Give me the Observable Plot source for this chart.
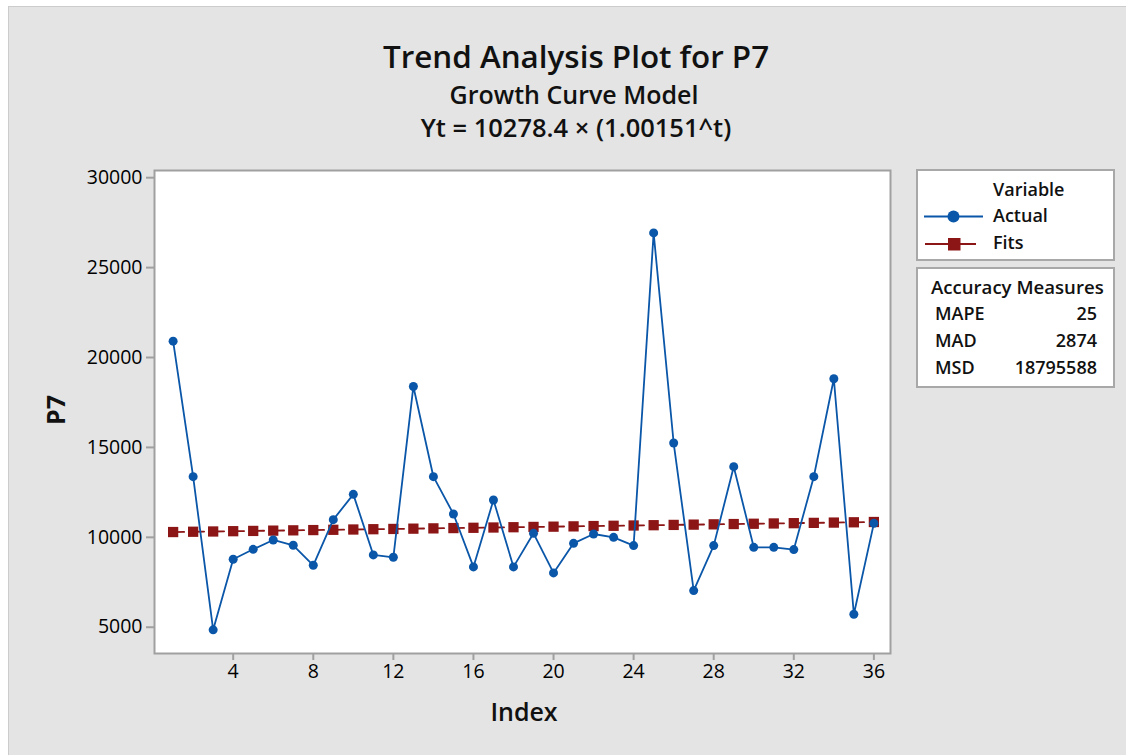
<!DOCTYPE html>
<html>
<head>
<meta charset="utf-8">
<script src="https://cdn.jsdelivr.net/npm/d3@7"></script>
<script src="https://cdn.jsdelivr.net/npm/@observablehq/plot@0.6"></script>
<style>
  html, body { margin: 0; padding: 0; background: #ffffff; width: 1126px; height: 755px; overflow: hidden; }
  #bg { position: absolute; left: 8px; top: 6px; right: 0; bottom: 0; background: #e4e4e4;
        border-left: 1px solid #cccccc; border-top: 1px solid #cccccc; }
  #chart { position: absolute; left: 0; top: 0; }
  #overlay { position: absolute; left: 0; top: 0; pointer-events: none; }
</style>
</head>
<body>
<div id="bg"></div>
<div id="chart"></div>
<svg id="overlay" width="1126" height="755"></svg>
<script>
// ---- data ----
const index = [1,2,3,4,5,6,7,8,9,10,11,12,13,14,15,16,17,18,19,20,21,22,23,24,25,26,27,28,29,30,31,32,33,34,35,36];
const actual = [20911, 13372, 4856, 8778, 9333, 9852, 9556, 8444, 10983, 12389, 9022, 8889,
                18389, 13372, 11300, 8356, 12078, 8356, 10222, 8022, 9667, 10185, 10000, 9539,
                26928, 15244, 7039, 9539, 13928, 9444, 9444, 9317, 13372, 18817, 5722, 10778];
const fits = [10294, 10310, 10325, 10341, 10356, 10372, 10388, 10403, 10419, 10435, 10451, 10466,
              10482, 10498, 10514, 10530, 10546, 10562, 10578, 10593, 10609, 10626, 10642, 10658,
              10674, 10690, 10706, 10722, 10738, 10755, 10771, 10787, 10803, 10820, 10836, 10852];
const xTicks = [4, 8, 12, 16, 20, 24, 28, 32, 36];
const yTicks = [5000, 10000, 15000, 20000, 25000, 30000];
const seriesNames = ["Actual", "Fits"];
const accuracyNames = ["MAPE", "MAD", "MSD"];
const accuracyValues = ["25", "2874", "18795588"];
const titleText = "Trend Analysis Plot for P7";
const subtitleText = "Growth Curve Model";
const equationText = "Yt = 10278.4 \u00d7 (1.00151^t)";
const xLabel = "Index";
const yLabel = "P7";

const blue = "#0a56a8";
const red = "#8c1515";
const font = "'Segoe UI', 'Open Sans', 'Noto Sans', sans-serif";

const actualData = index.map((t, i) => ({t, v: actual[i]}));
const fitsData = index.map((t, i) => ({t, v: fits[i]}));

const chart = Plot.plot({
  width: 1126,
  height: 755,
  marginLeft: 154,
  marginRight: 236,
  marginTop: 170,
  marginBottom: 102,
  style: {background: "transparent", fontFamily: font, fontSize: "19.5px", color: "black", overflow: "visible"},
  x: {domain: [0.07, 36.83]},
  y: {domain: [3539, 30400]},
  marks: [
    Plot.frame({fill: "white", stroke: "none"}),
    Plot.axisX({ticks: xTicks, tickSize: 7, tickPadding: 4, stroke: "#a0a0a0", strokeWidth: 2, fill: "black", label: null, fontSize: 19.5}),
    Plot.axisY({ticks: yTicks, tickSize: 8, tickPadding: 4, tickFormat: d3.format("d"), stroke: "#a0a0a0", strokeWidth: 2, fill: "black", label: null, fontSize: 19.5}),
    Plot.line(fitsData, {x: "t", y: "v", stroke: red, strokeWidth: 1.8, strokeDasharray: "11,9"}),
    Plot.dot(fitsData, {x: "t", y: "v", symbol: "square", r: 5.8, fill: red, stroke: "none"}),
    Plot.line(actualData, {x: "t", y: "v", stroke: blue, strokeWidth: 1.8}),
    Plot.dot(actualData, {x: "t", y: "v", symbol: "circle", r: 4.5, fill: blue, stroke: "none"}),
    Plot.frame({stroke: "#a0a0a0", strokeWidth: 2})
  ]
});
document.getElementById("chart").appendChild(chart);

// ---- titles, axis labels, legend ----
const svg = d3.select("#overlay").style("font-family", font);

function txt(x, y, s, size, weight, anchor = "start") {
  return svg.append("text").attr("x", x).attr("y", y).attr("font-size", size)
    .attr("font-weight", weight).attr("text-anchor", anchor).attr("fill", "#111").text(s);
}
txt(576, 68, titleText, 31.4, 600, "middle");
txt(574, 104, subtitleText, 25, 600, "middle");
txt(576, 137, equationText, 25.5, 600, "middle");
txt(524, 721, xLabel, 25, 600, "middle");
svg.append("text").attr("transform", "translate(65,410) rotate(-90)")
  .attr("font-size", 25).attr("font-weight", 700).attr("text-anchor", "middle")
  .attr("fill", "#111").text(yLabel);

// legend box
svg.append("rect").attr("x", 917).attr("y", 170).attr("width", 197).attr("height", 90)
  .attr("fill", "white").attr("stroke", "#a8a8a8").attr("stroke-width", 2);
txt(993, 195.5, "Variable", 18, 600);
// Actual
svg.append("line").attr("x1", 924).attr("x2", 983).attr("y1", 216.5).attr("y2", 216.5)
  .attr("stroke", blue).attr("stroke-width", 1.8);
svg.append("circle").attr("cx", 953.5).attr("cy", 216.5).attr("r", 6).attr("fill", blue);
txt(993, 221.5, seriesNames[0], 18, 600);
// Fits
svg.append("line").attr("x1", 925).attr("x2", 976).attr("y1", 244).attr("y2", 244)
  .attr("stroke", red).attr("stroke-width", 1.8);
svg.append("rect").attr("x", 948).attr("y", 238).attr("width", 12.5).attr("height", 12.5).attr("fill", red);
txt(993, 249, seriesNames[1], 18, 600);

// accuracy box
svg.append("rect").attr("x", 917).attr("y", 268).attr("width", 197).attr("height", 119)
  .attr("fill", "white").attr("stroke", "#a8a8a8").attr("stroke-width", 2);
txt(931, 294, "Accuracy Measures", 18.6, 600);
const rowsY = [320, 346.5, 374];
accuracyNames.forEach((n, i) => {
  txt(935, rowsY[i], n, 18, 600);
  txt(1097, rowsY[i], accuracyValues[i], 18, 600, "end");
});
</script>
</body>
</html>
